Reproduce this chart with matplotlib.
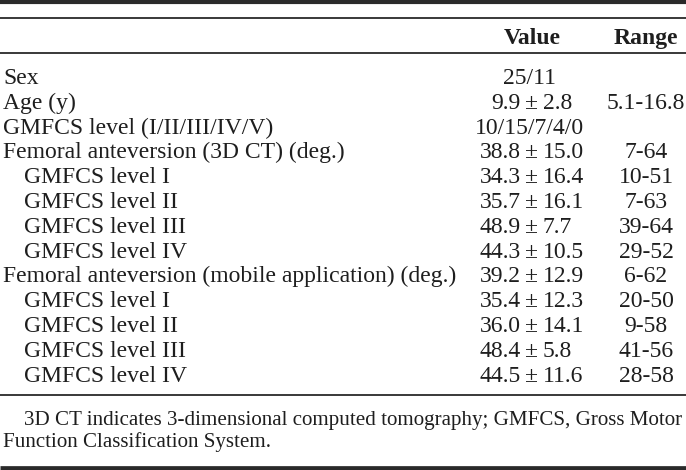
import matplotlib.pyplot as plt

# table content
labels = ["Sex", "Age (y)", "GMFCS level (I/II/III/IV/V)",
          "Femoral anteversion (3D CT) (deg.)",
          "GMFCS level I", "GMFCS level II", "GMFCS level III", "GMFCS level IV",
          "Femoral anteversion (mobile application) (deg.)",
          "GMFCS level I", "GMFCS level II", "GMFCS level III", "GMFCS level IV"]
indent = [0, 0, 0, 0, 1, 1, 1, 1, 0, 1, 1, 1, 1]
values = ["25/11", "9.9 ± 2.8", "10/15/7/4/0",
          "38.8 ± 15.0", "34.3 ± 16.4", "35.7 ± 16.1", "48.9 ± 7.7", "44.3 ± 10.5",
          "39.2 ± 12.9", "35.4 ± 12.3", "36.0 ± 14.1", "48.4 ± 5.8", "44.5 ± 11.6"]
ranges = ["", "5.1-16.8", "", "7-64", "10-51", "7-63", "39-64", "29-52",
          "6-62", "20-50", "9-58", "41-56", "28-58"]
headers = ["Value", "Range"]
footnote = ["3D CT indicates 3-dimensional computed tomography; GMFCS, Gross Motor",
            "Function Classification System."]

plt.rcParams['font.family'] = ['Liberation Serif', 'DejaVu Serif']

fig = plt.figure(figsize=(6.86, 4.70), dpi=100)
ax = fig.add_axes([0, 0, 1, 1])
ax.set_xlim(0, 686)
ax.set_ylim(470, 0)
ax.set_axis_off()

fs = 17
line_c = '#2a2a2a'
txt_c = '#1e1e1e'

# rules
ax.plot([0, 686], [2, 2], color=line_c, lw=3.0, solid_capstyle='butt')
ax.plot([0, 686], [17.5, 17.5], color=line_c, lw=1.3, solid_capstyle='butt')
ax.plot([0, 686], [52.5, 52.5], color=line_c, lw=1.3, solid_capstyle='butt')
ax.plot([0, 686], [395, 395], color=line_c, lw=1.3, solid_capstyle='butt')
ax.plot([0, 686], [467.5, 467.5], color=line_c, lw=3.4, solid_capstyle='butt')

# header
ax.text(532, 44, headers[0], fontsize=fs, fontweight='bold', ha='center', va='baseline', color=txt_c)
ax.text(646, 44, headers[1], fontsize=fs, fontweight='bold', ha='center', va='baseline', color=txt_c)

# rows
y0 = 84
dy = 24.8
x_pm = 532
for i in range(len(labels)):
    y = y0 + i * dy
    x = 3 + indent[i] * 21
    ax.text(x, y, labels[i], fontsize=fs, ha='left', va='baseline', color=txt_c)
    if ' ± ' in values[i]:
        mean, sd = values[i].split(' ± ')
        ax.text(x_pm - 11, y, mean, fontsize=fs, ha='right', va='baseline', color=txt_c)
        ax.text(x_pm, y, '±', fontsize=fs, ha='center', va='baseline', color=txt_c)
        ax.text(x_pm + 11, y, sd, fontsize=fs, ha='left', va='baseline', color=txt_c)
    else:
        ax.text(529, y, values[i], fontsize=fs, ha='center', va='baseline', color=txt_c)
    if ranges[i]:
        ax.text(646, y, ranges[i], fontsize=fs, ha='center', va='baseline', color=txt_c)

# footnote
ax.text(24, 425, footnote[0], fontsize=15.1, ha='left', va='baseline', color=txt_c)
ax.text(3, 447, footnote[1], fontsize=15.1, ha='left', va='baseline', color=txt_c)

fig.savefig('out.png', dpi=100)
